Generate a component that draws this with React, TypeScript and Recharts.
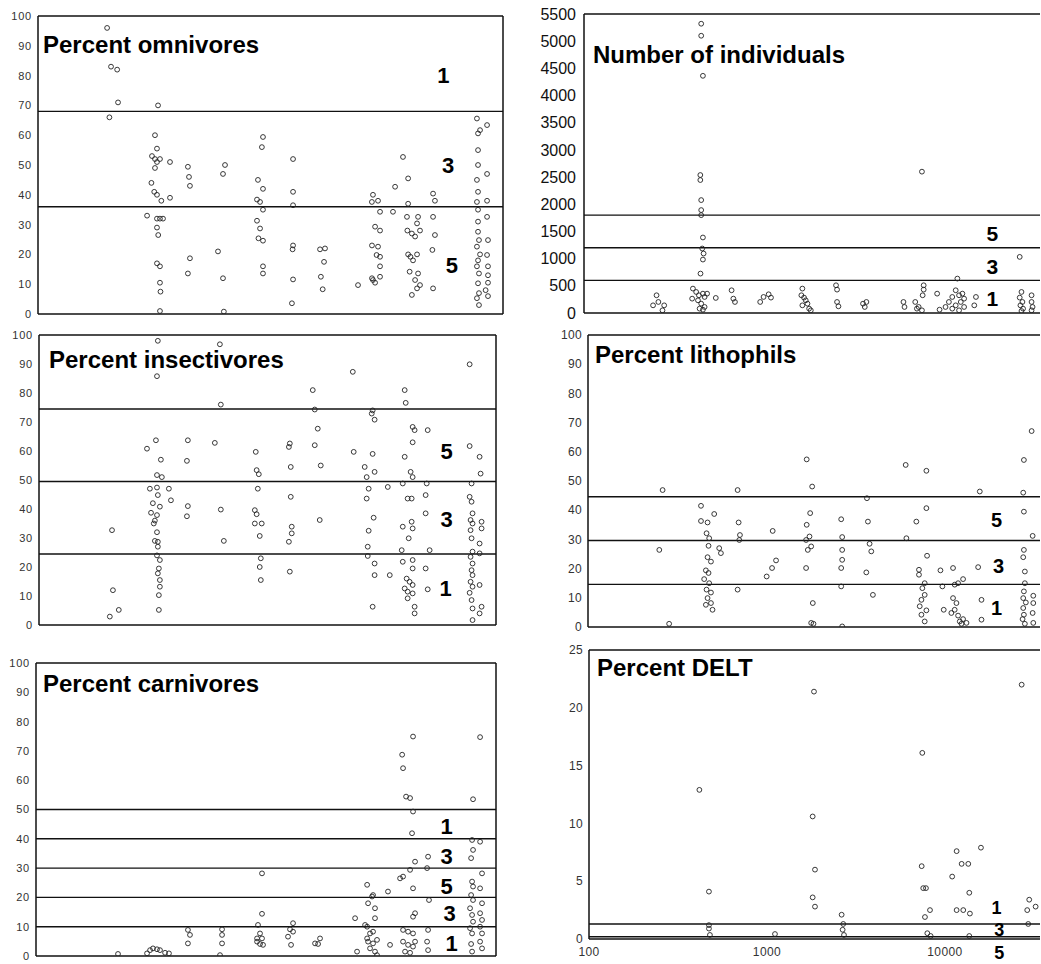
import React from 'react'
import { ScatterChart, Scatter, XAxis, YAxis, ReferenceLine, ReferenceDot } from 'recharts'

type Pt = [number, number]
type Zone = [number, number, string]

// catchment area, log axis shared by every panel
const areaDomain: [number, number] = [100, 34200]
const areaTicks = [100, 1000, 10000]

const pctTicks = [0, 10, 20, 30, 40, 50, 60, 70, 80, 90, 100]
const indTicks = [0, 500, 1000, 1500, 2000, 2500, 3000, 3500, 4000, 4500, 5000, 5500]
const deltTicks = [0, 5, 10, 15, 20, 25]

const omnivores: Pt[] = [
  [238, 96], [250, 83], [270, 82], [273, 71], [245, 66], [451, 70],
  [434, 60], [445, 55.5], [418, 53], [434, 52], [445, 51], [462, 52], [434, 49], [415, 44], [430, 41], [445, 40],
  [470, 38], [393, 33], [445, 32], [462, 32], [480, 32], [445, 29], [452, 26.5], [445, 17], [462, 16], [462, 10.5],
  [465, 7.5], [462, 1], [524, 51], [524, 39],
  [656, 49.4], [665, 46], [673, 43], [673, 18.7], [656, 13.6],
  [1045, 50], [1019, 47], [957, 21], [1019, 12], [1030, 0.8],
  [1683, 59.4], [1660, 56], [1580, 45], [1683, 42], [1561, 38.4], [1622, 37.6], [1683, 35], [1561, 31.3],
  [1622, 28.7], [1590, 25.4], [1683, 24.6], [1683, 16], [1683, 13.6],
  [2454, 52], [2454, 41], [2454, 36.5], [2454, 23], [2440, 21.7], [2454, 11.6], [2420, 3.6],
  [3443, 21.7], [3665, 22], [3620, 17.5], [3480, 12.5], [3560, 8.3],
  [5546, 9.7], [6690, 40], [6600, 37.6], [7128, 38], [7310, 34.3], [6870, 29.3], [7310, 28], [6607, 23],
  [7128, 22.6], [7000, 19.8], [7310, 19.2], [7310, 16], [6607, 12], [6870, 10.5], [7310, 12.5], [6690, 11.4],
  [8830, 42.7], [8600, 34.3], [9750, 52.7], [10400, 45.5], [10400, 37], [10250, 32.6], [10300, 28], [10900, 27],
  [11350, 26], [11780, 32.6], [11630, 30.4], [12070, 28], [10400, 20], [10700, 19.2], [11060, 18], [11630, 20],
  [10600, 14.2], [11780, 13.6], [11350, 11.4], [12070, 9.7], [10900, 6.4], [11630, 8.6],
  [14220, 40.4], [14560, 38], [14220, 32.6], [14560, 26.5], [14100, 21.5], [14220, 8.6],
  [24660, 65.6], [25640, 61.7], [28000, 63.4], [25000, 60.6], [25000, 55], [25000, 50], [24660, 45], [25000, 41],
  [24660, 37.6], [25000, 35], [25000, 31], [25000, 27.6], [25300, 24.8], [24660, 22.6], [25640, 20], [25000, 18],
  [24660, 16], [25300, 13.6], [25000, 10.3], [25300, 7], [24660, 5.3], [25300, 3], [28000, 47], [28000, 38],
  [28000, 32.6], [28330, 24.8], [28000, 19.8], [28330, 16], [28330, 13], [28330, 10.5], [28330, 6], [27500, 8],
]

const insectivores: Pt[] = [
  [254, 32.7], [257, 12], [247, 2.9], [277, 5.2],
  [456, 98], [451, 85.8], [445, 63.7], [397, 60.8], [474, 57], [451, 51.7], [480, 51], [412, 47], [451, 47.4],
  [456, 44.8], [428, 42], [468, 40.8], [418, 38.7], [451, 37.9], [439, 36], [433, 35], [451, 32], [439, 29],
  [456, 28.7], [456, 27], [451, 24], [468, 22.4], [462, 19.5], [456, 17.8], [468, 15.5], [468, 13.2], [462, 10.3],
  [462, 5.2], [525, 47], [539, 43],
  [661, 56.6], [669, 41], [661, 37.5], [669, 63.7],
  [944, 62.8], [1019, 39.8], [1059, 29], [1007, 96.8], [1019, 76],
  [1592, 59.7], [1610, 53.4], [1655, 52], [1634, 47], [1573, 39.6], [1610, 38.2], [1573, 35], [1718, 35],
  [1675, 30.7], [1698, 23], [1675, 20], [1698, 15.5],
  [2459, 62.6], [2430, 61.4], [2489, 54.5], [2489, 44.2], [2520, 33.9], [2520, 31.6], [2430, 28.7], [2459, 18.4],
  [3296, 81], [3381, 74.3], [3513, 67.7], [3381, 62], [3650, 55], [3603, 36.2],
  [5495, 87.3], [5559, 59.7], [6397, 54.5], [6561, 51], [6730, 47], [6561, 43.6], [7170, 37], [6730, 32.5],
  [6650, 27], [6650, 23.8], [7260, 21.2], [7260, 17.2], [7080, 6.3], [7080, 74], [6998, 72.9], [7260, 70.8],
  [7080, 59], [7260, 52.8], [8590, 47.6], [8810, 17.2],
  [10660, 81], [10800, 76.6], [11800, 68.3], [12100, 67.2], [11800, 63], [10660, 58], [11500, 52.8], [11800, 51],
  [10400, 48.8], [11070, 43.6], [11650, 43.6], [11650, 35.6], [10400, 33.9], [11800, 33.3], [11220, 29.9],
  [10260, 25.8], [10400, 21.8], [11800, 22.4], [11800, 19.5], [10930, 16], [11350, 14.9], [11800, 13.8],
  [10660, 12.6], [11070, 11.5], [11800, 10.9], [11070, 9.2], [12100, 6.3], [12100, 4],
  [14300, 67.2], [14120, 48.8], [13930, 44.8], [13930, 38.5], [14660, 25.8], [13930, 19.5], [14300, 12.3],
  [24430, 89.9], [24430, 61.7], [27740, 58], [28100, 52.2], [25040, 48.8], [24430, 44.2], [25040, 42.5],
  [25350, 38.5], [24720, 36.2], [25350, 35], [24720, 32.7], [25040, 29.9], [25350, 25.3], [24720, 23.5],
  [25350, 21.2], [25040, 18.9], [25350, 17.2], [24720, 14.9], [25350, 13.2], [24430, 11.1], [25040, 8.6],
  [25350, 5.7], [25350, 1.7], [28450, 35.6], [28450, 33.3], [27740, 28.1], [27740, 24.7], [27740, 13.8],
  [28450, 6.3], [27740, 4],
]

const carnivores: Pt[] = [
  [283, 0.7], [409, 0.9], [425, 2], [441, 2.6], [464, 2.3], [482, 2], [514, 1.1], [540, 0.9],
  [687, 4.3], [705, 7.2], [687, 8.9], [1032, 0.3], [1059, 4.3], [1059, 7.2], [1059, 9.1],
  [1758, 28.2], [1758, 14.4], [1671, 10.6], [1714, 7.7], [1651, 6], [1758, 6], [1714, 4.1], [1781, 3.8], [1651, 4.9],
  [2445, 6.6], [2541, 3.8], [2606, 11.2], [2508, 9.1], [2606, 8.3],
  [3445, 4.3], [3670, 6], [3580, 4.1],
  [5870, 1.5], [5725, 12.9], [6500, 10.6], [6670, 24.3], [6750, 18], [7100, 20.3], [7190, 20.8], [7370, 16.3],
  [7370, 12.9], [6670, 10], [6920, 7.7], [7190, 8.3], [6750, 4.9], [7190, 4.3], [7560, 5.5], [6920, 2.6],
  [7370, 1.5], [7560, 0.3], [6670, 6], [8690, 22], [8920, 3.8],
  [10400, 68.7], [10520, 64.1], [10930, 54.4], [11500, 53.9], [11940, 49.3], [11790, 41.9], [12250, 32.2],
  [11500, 29.4], [10520, 27.1], [10130, 26.5], [11940, 23.1], [12250, 14.6], [11940, 13.4], [10520, 8.9],
  [11210, 8.3], [11940, 7.7], [10520, 4.9], [11210, 3.8], [11940, 3.2], [10790, 1.5], [11500, 1.1], [12250, 4.9],
  [11940, 74.9],
  [14450, 33.9], [14270, 30], [14620, 19.1], [14450, 8.9], [14450, 2], [14270, 4.9],
  [27950, 74.7], [25560, 53.5], [25250, 39.6], [25560, 36.2], [24940, 33.4], [25250, 25.4], [25560, 23.7],
  [24940, 20.8], [25560, 19.1], [24610, 16.3], [25250, 14], [25560, 11.7], [24610, 9.5], [25250, 7.7],
  [24940, 4.1], [25250, 1.5], [27950, 39], [28650, 28.2], [27950, 23.1], [28650, 18], [27950, 14.6],
  [28650, 12.3], [27950, 10], [28650, 7.7], [27950, 4.9], [28650, 2.6],
]

const individuals: Pt[] = [
  [242, 141], [253, 326], [273, 49], [259, 203], [279, 141],
  [448, 5321], [448, 5100], [458, 4363], [443, 2538], [443, 2446], [448, 2077], [448, 1893], [448, 1800],
  [458, 1389], [454, 1186], [462, 1094], [458, 983], [444, 725],
  [403, 449], [420, 387], [435, 326], [458, 356], [468, 295], [430, 233], [448, 172], [468, 111], [439, 80],
  [458, 61], [399, 264], [483, 356],
  [540, 277], [661, 418], [676, 264], [690, 203],
  [953, 203], [995, 295], [1062, 344], [1094, 283],
  [1635, 449], [1614, 326], [1670, 283], [1707, 233], [1745, 172], [1783, 80], [1635, 141], [1821, 49],
  [2515, 510], [2548, 430], [2548, 203], [2594, 123],
  [3553, 172], [3633, 111], [3710, 203],
  [5960, 203], [6040, 111],
  [6930, 203], [7240, 111], [7550, 49], [7720, 510], [7720, 430], [7620, 326], [7080, 80], [7550, 2600],
  [9170, 356], [9460, 61],
  [10210, 111], [10660, 203], [11130, 295], [11630, 418], [12140, 326], [12670, 356], [12950, 264],
  [12410, 203], [11630, 141], [11130, 80], [12140, 49], [12950, 111], [11880, 633],
  [15070, 295], [14750, 141],
  [26380, 1032], [26980, 387], [26380, 283], [27310, 203], [26620, 141], [27540, 80], [26980, 37],
  [30700, 326], [30700, 203], [31100, 111], [30700, 49],
]

const lithophils: Pt[] = [
  [262, 46.9], [251, 26.4], [285, 1.1],
  [430, 41.5], [430, 36.3], [468, 35.8], [510, 38.7], [462, 32.1], [478, 30.4], [474, 27.8], [544, 27],
  [556, 25.3], [468, 23.9], [489, 22.4], [458, 19.4], [474, 18.5], [448, 16.4], [478, 15], [462, 12.8],
  [489, 11.8], [468, 9.9], [489, 8.2], [458, 7.6], [499, 5.9],
  [690, 46.9], [699, 35.8], [711, 31.5], [705, 29.8], [690, 12.8],
  [1004, 17.3], [1076, 20.2], [1133, 22.8], [1085, 32.9],
  [1683, 57.4], [1806, 48.1], [1760, 39], [1683, 35], [1745, 31], [1670, 29.8], [1783, 27.6], [1707, 26.4],
  [1670, 20.2], [1821, 8.2], [1783, 1.4], [1837, 1.1],
  [2627, 36.9], [2661, 30.8], [2661, 26.4], [2661, 23], [2627, 20.2], [2627, 13.9], [2661, 0.2],
  [3710, 36.1], [3790, 28.5], [3874, 25.9], [3633, 18.7], [3663, 44.1], [3956, 11],
  [6040, 55.5], [6095, 30.4], [6930, 36.1],
  [7890, 53.5], [7890, 40.7], [7960, 24.4], [7170, 19.6], [7170, 17.9], [7720, 15], [7490, 13.3], [7720, 11],
  [7400, 9.3], [7240, 7.1], [7890, 5.7], [7400, 4.2], [7720, 1.9],
  [9460, 19.4], [9700, 13.9], [9870, 5.9],
  [11130, 20.2], [11370, 14.5], [11880, 15], [12670, 16.4], [11130, 9.9], [11630, 8.2], [11370, 5.9],
  [11880, 3.9], [12140, 1.9], [12670, 2.7], [13240, 1.4], [12410, 1.1], [10890, 4.8],
  [15390, 20.5], [16070, 9.3], [16070, 2.5], [15720, 46.4],
  [30700, 67.1], [27780, 57.2], [27540, 46], [27780, 39.5], [31100, 31.2], [27780, 26.4], [27540, 23.9],
  [28130, 19], [28130, 15], [27780, 12.2], [27540, 9.9], [28490, 8.4], [27540, 6.5], [27780, 4.2],
  [27310, 2.7], [28130, 1.1], [31360, 10.7], [31360, 8.2], [31100, 4.8], [31360, 1.4],
]

const delt: Pt[] = [
  [417, 12.9], [472, 4.1], [472, 1.2], [472, 0.9], [478, 0.35], [1109, 0.43],
  [1837, 21.4], [1806, 10.6], [1861, 6], [1806, 3.6], [1861, 2.8],
  [2627, 2.1], [2683, 1.3], [2661, 0.8], [2708, 0.35],
  [7460, 16.1], [7400, 6.3], [7550, 4.4], [7820, 4.4], [7720, 1.9], [8240, 2.5], [7960, 0.5], [8310, 0.26],
  [10980, 5.4], [11630, 7.6], [12410, 6.5], [13520, 6.5], [11630, 2.5], [12670, 2.5], [13810, 2.2],
  [13700, 4], [13700, 0.26], [15930, 7.9],
  [26980, 22], [28990, 2.5], [29750, 3.4], [32320, 2.8], [29370, 1.3],
]

// score thresholds and the score written in each band
const omnivoreLines = [68, 36]
const omnivoreZones: Zone[] = [[16200, 80, '1'], [17200, 49.7, '3'], [18000, 16.4, '5']]
const insectivoreLines = [74.5, 49.5, 24.5]
const insectivoreZones: Zone[] = [[18200, 60, '5'], [18200, 36.4, '3'], [18000, 12.6, '1']]
const carnivoreLines = [50, 40, 30, 20, 10]
const carnivoreZones: Zone[] = [
  [18300, 44.2, '1'], [18300, 33.9, '3'], [18300, 23.7, '5'], [19000, 14.6, '3'], [19500, 4.3, '1'],
]
const individualLines = [1800, 1200, 600]
const individualZones: Zone[] = [[18600, 1463, '5'], [18600, 848, '3'], [18600, 264, '1']]
const lithophilLines = [44.6, 29.6, 14.6]
const lithophilZones: Zone[] = [[19500, 36.7, '5'], [20000, 21, '3'], [19500, 6.5, '1']]
const deltLines = [1.3, 0.2]
const deltZones: Zone[] = [[19500, 2.65, '1'], [20200, 0.8, '3'], [20200, -1.2, '5']]

const sans = "'Liberation Sans', Arial, Helvetica, sans-serif"

type PanelProps = {
  title: string
  pts: Pt[]
  yMax: number
  yTicks: number[]
  lines: number[]
  zones: Zone[]
  zoneSize: number
  left: number
  top: number
  width: number
  height: number
  margin: { top: number; right: number; bottom: number; left: number }
  yWidth: number
  tickSize: number
  tickFont: { fontSize: number; fill: string; letterSpacing: number }
  titlePos: [number, number]
  showX?: boolean
  rightEdge?: boolean
}

const Ring = (p: any) => (
  <circle cx={p.cx} cy={p.cy} r={2.4} fill="none" stroke="#222" strokeWidth={0.9} />
)

function Panel(p: PanelProps) {
  const data = p.pts.map(([x, y]) => ({ x, y }))
  return (
    <>
      <div style={{ position: 'absolute', left: p.left, top: p.top }}>
        <ScatterChart width={p.width} height={p.height} margin={p.margin}>
          <XAxis
            type="number" dataKey="x" scale="log" domain={areaDomain} allowDataOverflow
            hide={!p.showX} ticks={areaTicks} interval={0} height={25}
            tickLine={false} axisLine={false} tickSize={6} tickMargin={2}
            tick={{ fontSize: 12, fill: '#333', fontFamily: sans, letterSpacing: 0.4 }}
          />
          <YAxis
            type="number" dataKey="y" domain={[0, p.yMax]} allowDataOverflow
            ticks={p.yTicks} interval={0} width={p.yWidth}
            tickLine={false} axisLine={false} tickSize={p.tickSize} tickMargin={2}
            tick={{ ...p.tickFont, fontFamily: sans }}
          />
          <ReferenceLine y={p.yMax} stroke="#111" strokeWidth={1.5} />
          <ReferenceLine y={0} stroke="#111" strokeWidth={1.5} />
          <ReferenceLine x={areaDomain[0]} stroke="#111" strokeWidth={1.5} />
          {p.rightEdge && <ReferenceLine x={areaDomain[1]} stroke="#111" strokeWidth={1.5} />}
          {p.lines.map(v => (
            <ReferenceLine key={v} y={v} stroke="#111" strokeWidth={1.4} />
          ))}
          <Scatter data={data} shape={Ring} isAnimationActive={false} />
          {p.zones.map(([x, y, label], i) => (
            <ReferenceDot
              key={i} x={x} y={y} ifOverflow="visible"
              shape={(s: any) => (
                <text
                  x={s.cx} y={s.cy} textAnchor="middle" dominantBaseline="central"
                  fontSize={p.zoneSize} fontWeight="bold" fontFamily={sans} fill="#000"
                >
                  {label}
                </text>
              )}
            />
          ))}
        </ScatterChart>
      </div>
      <div
        style={{
          position: 'absolute', left: p.titlePos[0], top: p.titlePos[1] - 20,
          fontFamily: sans, fontWeight: 'bold', fontSize: 24, lineHeight: 1, whiteSpace: 'nowrap', color: '#000',
        }}
      >
        {p.title}
      </div>
    </>
  )
}

const leftFont = { fontSize: 11, fill: '#333', letterSpacing: 0.8 }
const rightFont = { fontSize: 12, fill: '#333', letterSpacing: 0.3 }

export default function App() {
  return (
    <div style={{ position: 'absolute', left: 0, top: 0, width: 1041, height: 964, background: '#fff', overflow: 'hidden' }}>
      <Panel
        title="Percent omnivores" pts={omnivores} yMax={100} yTicks={pctTicks}
        lines={omnivoreLines} zones={omnivoreZones} zoneSize={22}
        left={0} top={0} width={510} height={320}
        margin={{ top: 16, right: 7, bottom: 6, left: 0 }} yWidth={38} tickSize={4}
        tickFont={leftFont} titlePos={[43, 53]} rightEdge
      />
      <Panel
        title="Percent insectivores" pts={insectivores} yMax={100} yTicks={pctTicks}
        lines={insectivoreLines} zones={insectivoreZones} zoneSize={22}
        left={0} top={320} width={510} height={320}
        margin={{ top: 15, right: 14, bottom: 15, left: 0 }} yWidth={39} tickSize={4}
        tickFont={leftFont} titlePos={[49, 368]} rightEdge
      />
      <Panel
        title="Percent carnivores" pts={carnivores} yMax={100} yTicks={pctTicks}
        lines={carnivoreLines} zones={carnivoreZones} zoneSize={22}
        left={0} top={640} width={510} height={324}
        margin={{ top: 23, right: 14, bottom: 8, left: 0 }} yWidth={36} tickSize={4}
        tickFont={leftFont} titlePos={[43, 692]} rightEdge
      />
      <Panel
        title="Number of individuals" pts={individuals} yMax={5500} yTicks={indTicks}
        lines={individualLines} zones={individualZones} zoneSize={21}
        left={520} top={0} width={521} height={330}
        margin={{ top: 14, right: 1, bottom: 17, left: 0 }} yWidth={64} tickSize={6}
        tickFont={{ fontSize: 16, fill: '#111', letterSpacing: 0 }} titlePos={[593, 63]}
      />
      <Panel
        title="Percent lithophils" pts={lithophils} yMax={100} yTicks={pctTicks}
        lines={lithophilLines} zones={lithophilZones} zoneSize={20}
        left={520} top={320} width={521} height={320}
        margin={{ top: 15, right: 1, bottom: 13, left: 0 }} yWidth={68} tickSize={4}
        tickFont={rightFont} titlePos={[595, 363]}
      />
      <Panel
        title="Percent DELT" pts={delt} yMax={25} yTicks={deltTicks}
        lines={deltLines} zones={deltZones} zoneSize={18}
        left={520} top={640} width={521} height={324}
        margin={{ top: 10, right: 1, bottom: 0, left: 0 }} yWidth={69} tickSize={4}
        tickFont={rightFont} titlePos={[597, 676]} showX
      />
    </div>
  )
}
